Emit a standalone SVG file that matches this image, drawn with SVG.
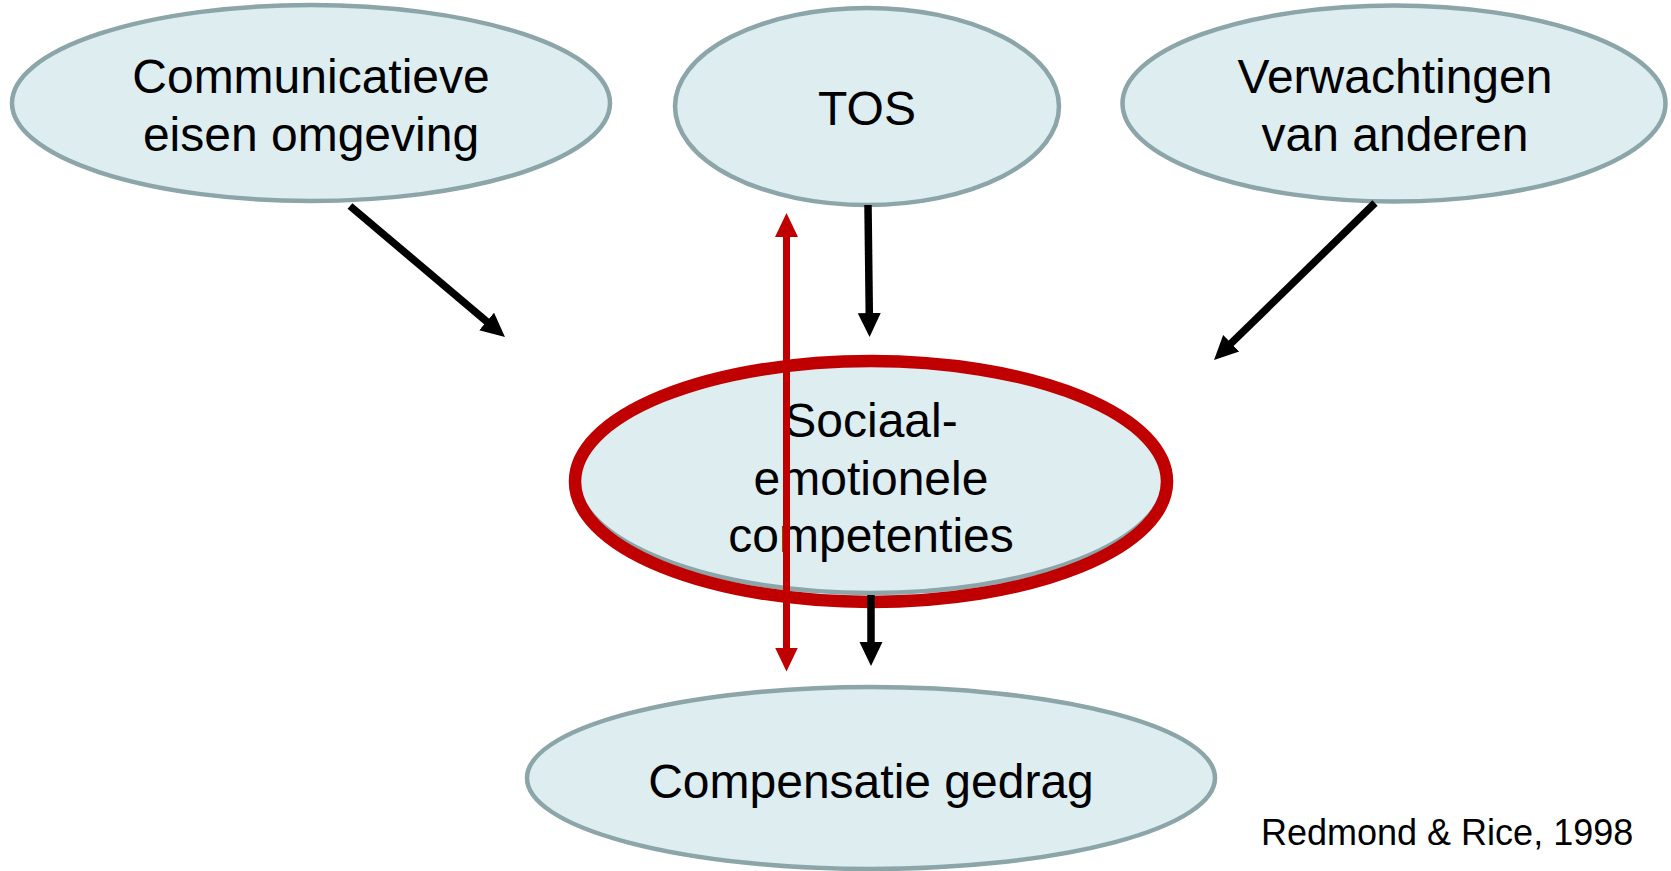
<svg xmlns="http://www.w3.org/2000/svg" width="1671" height="871" viewBox="0 0 1671 871">
<style>
.node{fill:#DDEDF0;stroke:#8BA5A8;stroke-width:4.5}
.lbl{font-family:"Liberation Sans",Arial,sans-serif;font-size:48px;fill:#000;text-anchor:middle}
.blk{stroke:#000;stroke-width:7.5;fill:none}
.red{stroke:#C00000;stroke-width:7;fill:none}
</style>
<defs>
<marker id="ah" markerUnits="userSpaceOnUse" markerWidth="26" markerHeight="26" viewBox="0 -13 26 26" refX="1" refY="0" orient="auto">
<path d="M0,-11.5 L24,0 L0,11.5 z" fill="#000"/>
</marker>
<marker id="ahr" markerUnits="userSpaceOnUse" markerWidth="26" markerHeight="26" viewBox="0 -13 26 26" refX="1" refY="0" orient="auto-start-reverse">
<path d="M0,-11.5 L24,0 L0,11.5 z" fill="#C00000"/>
</marker>
</defs>
<rect width="1671" height="871" fill="#fff"/>
<g id="n-communicatieve">
<ellipse class="node" cx="311" cy="103" rx="299" ry="98"/>
<text class="lbl" x="311" y="93">Communicatieve</text>
<text class="lbl" x="311" y="151">eisen omgeving</text>
</g>
<g id="n-tos">
<ellipse class="node" cx="867" cy="106.5" rx="192" ry="98.5"/>
<text class="lbl" x="867" y="125">TOS</text>
</g>
<g id="n-verwachtingen">
<ellipse class="node" cx="1394" cy="103.5" rx="271.5" ry="98"/>
<text class="lbl" x="1395" y="93">Verwachtingen</text>
<text class="lbl" x="1395" y="151">van anderen</text>
</g>
<g id="n-sociaal">
<ellipse class="node" cx="871" cy="478" rx="294" ry="115"/>
<ellipse cx="871" cy="481.5" rx="296" ry="120.5" fill="none" stroke="#C00000" stroke-width="12.5"/>
<text class="lbl" x="871" y="437">Sociaal-</text>
<text class="lbl" x="871" y="495">emotionele</text>
<text class="lbl" x="871" y="552">competenties</text>
</g>
<g id="n-compensatie">
<ellipse class="node" cx="871" cy="778" rx="344" ry="91"/>
<text class="lbl" x="871" y="798">Compensatie gedrag</text>
</g>
<g id="connectors">
<line class="blk" x1="350" y1="206" x2="487.4" y2="322.1" marker-end="url(#ah)"/>
<line class="blk" x1="868" y1="205" x2="869.3" y2="314" marker-end="url(#ah)"/>
<line class="blk" x1="1375" y1="203" x2="1230.5" y2="343.9" marker-end="url(#ah)"/>
<line class="blk" x1="871" y1="595" x2="871" y2="643" marker-end="url(#ah)"/>
<line class="red" x1="786.5" y1="236" x2="786.5" y2="648.5" marker-start="url(#ahr)" marker-end="url(#ahr)"/>
</g>
<text x="1261" y="845" font-family="'Liberation Sans',Arial,sans-serif" font-size="36" fill="#000">Redmond &amp; Rice, 1998</text>
</svg>
